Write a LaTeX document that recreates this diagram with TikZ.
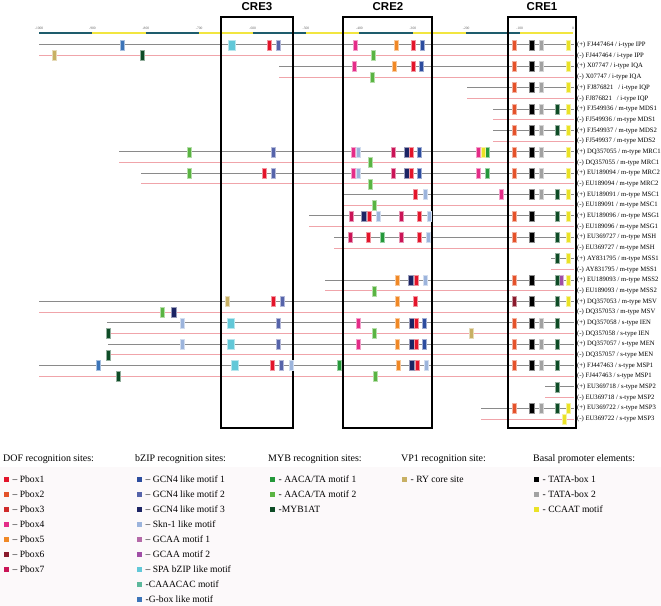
\documentclass[tikz,border=0pt]{standalone}
\usepackage{fontspec}
\setmainfont{Liberation Serif}
\newfontfamily\crefont{Liberation Sans}
\usetikzlibrary{positioning}

\definecolor{axisteal}{HTML}{1E5C6C}
\definecolor{axisyellow}{HTML}{F2E640}
\definecolor{plusgray}{HTML}{8A8A8A}
\definecolor{minuspink}{HTML}{F0A4AA}
\definecolor{legendbg}{HTML}{FCF9FA}
\definecolor{pboxone}{HTML}{E3142A}
\definecolor{pboxtwo}{HTML}{E4522A}
\definecolor{pboxthree}{HTML}{D02A2A}
\definecolor{pboxfour}{HTML}{E42C88}
\definecolor{pboxfive}{HTML}{F08826}
\definecolor{pboxsix}{HTML}{8A1A2C}
\definecolor{pboxseven}{HTML}{CA1456}
\definecolor{gcnone}{HTML}{2C4C9E}
\definecolor{gcntwo}{HTML}{5664AA}
\definecolor{gcnthree}{HTML}{1C2464}
\definecolor{sknone}{HTML}{9CB4DC}
\definecolor{gcaaone}{HTML}{B46AA8}
\definecolor{gcaatwo}{HTML}{A04EA6}
\definecolor{spabzip}{HTML}{62C8D8}
\definecolor{caaacac}{HTML}{5CB89C}
\definecolor{gboxlike}{HTML}{3C74B8}
\definecolor{aacaone}{HTML}{24983A}
\definecolor{aacatwo}{HTML}{5AB442}
\definecolor{mybat}{HTML}{0E4C26}
\definecolor{rycore}{HTML}{C8B064}
\definecolor{tataone}{HTML}{000000}
\definecolor{tatatwo}{HTML}{A2A2A2}
\definecolor{ccaatbox}{HTML}{EAE226}

\begin{document}
\begin{tikzpicture}[
    x=1bp, y=-1bp,
    declare function={rowy(\n)=45+(\n-1)*10.686;},
    axisbar/.style={line width=2.2bp},
    plusline/.style={draw=plusgray, line width=1bp},
    minusline/.style={draw=minuspink, line width=1bp},
    crebox/.style={draw=black, line width=1.2bp},
    crelabel/.style={font=\crefont\bfseries\fontsize{11.5}{12}\selectfont, inner sep=0pt},
    ticklabel/.style={font=\fontsize{3.6}{4}\selectfont, text=black!60, inner sep=0pt},
    rowlabel/.style={font=\fontsize{6.7}{7}\selectfont, anchor=west, inner sep=0pt},
    legtext/.style={font=\fontsize{9.6}{10}\selectfont, anchor=base west, inner sep=0pt},
    leghead/.style={font=\fontsize{10}{11}\selectfont, anchor=base west, inner sep=0pt},
    pics/site/.style 2 args={code={\path[fill=#1, draw=#1!45, line width=0.5bp] ({-#2/2},-5) rectangle ({#2/2},5);}}
]
\useasboundingbox (0,0) rectangle (661,606);

% legend background
\fill[legendbg] (0,467) rectangle (661,606);

% position axis
\draw[axisbar, axisyellow] (39,33) -- (573,33);
\foreach \k in {0,2,4,6,8}
  \draw[axisbar, axisteal] ({39+\k*53.4},33) -- ++(53.4,0);
\foreach \t [count=\k from 0] in {-1000,-900,...,0}
  \node[ticklabel] (tick\k) at ({39+\k*53.4},28) {\t};

% promoter rows
\foreach \rw/\st/\txt in {
    1/39/{(+) FJ447464 / i-type IPP}, 2/39/{(-) FJ447464 / i-type IPP},
    3/279/{(+) X07747 / i-type IQA}, 4/279/{(-) X07747 / i-type IQA},
    5/467/{(+) FJ876821\ \ \ / i-type IQP}, 6/467/{(-) FJ876821\ \ \ / i-type IQP},
    7/493/{(+) FJ549936 / m-type MDS1}, 8/493/{(-) FJ549936 / m-type MDS1},
    9/493/{(+) FJ549937 / m-type MDS2}, 10/493/{(-) FJ549937 / m-type MDS2},
    11/119/{(+) DQ357055\ / m-type MRC1}, 12/119/{(-) DQ357055 / m-type MRC1},
    13/141/{(+) EU189094 / m-type MRC2}, 14/141/{(-) EU189094 / m-type MRC2},
    15/343/{(+) EU189091 / m-type MSC1}, 16/343/{(-) EU189091 / m-type MSC1},
    17/309/{(+) EU189096 / m-type MSG1}, 18/309/{(-) EU189096 / m-type MSG1},
    19/334/{(+) EU369727 / m-type MSH}, 20/334/{(-) EU369727 / m-type MSH},
    21/551/{(+) AY831795 / m-type MSS1}, 22/551/{(-) AY831795 / m-type MSS1},
    23/325/{(+) EU189093 / m-type MSS2}, 24/325/{(-) EU189093 / m-type MSS2},
    25/39/{(+) DQ357053 / m-type MSV}, 26/39/{(-) DQ357053 / m-type MSV},
    27/107/{(+) DQ357058 / s-type IEN}, 28/107/{(-) DQ357058 / s-type IEN},
    29/108/{(+) DQ357057 / s-type MEN}, 30/108/{(-) DQ357057 / s-type MEN},
    31/39/{(+) FJ447463 / s-type MSP1}, 32/39/{(-) FJ447463 / s-type MSP1},
    33/545/{(+) EU369718 / s-type MSP2}, 34/545/{(-) EU369718 / s-type MSP2},
    35/481/{(+) EU369722 / s-type MSP3}, 36/481/{(-) EU369722 / s-type MSP3}} {
  \ifodd\rw \def\strand{plusline}\else\def\strand{minusline}\fi
  \draw[\strand] (\st,{rowy(\rw)}) -- (574,{rowy(\rw)});
  \node[rowlabel] (seq\rw) at (577,{rowy(\rw)}) {\txt};
}

% CRE regions
\draw[crebox] (221,17) rectangle (293,428);
\draw[crebox] (343,17) rectangle (432,428);
\draw[crebox] (508,17) rectangle (576,428);
\node[crelabel] (cre3) at (257,7) {CRE3};
\node[crelabel] (cre2) at (388,7) {CRE2};
\node[crelabel] (cre1) at (542,7) {CRE1};

% bZIP sites
\foreach \rw/\xx in {1/422,3/421,11/419,13/419,27/424,29/424}
  \pic at (\xx,{rowy(\rw)}) {site={gcnone}{4.4}};
\foreach \rw/\xx in {1/278,11/273,13/273,25/282,27/278,29/278,31/281}
  \pic at (\xx,{rowy(\rw)}) {site={gcntwo}{4.4}};
\foreach \rw/\xx in {11/407,13/407,17/364,23/411,26/174,27/412,29/412,31/412}
  \pic at (\xx,{rowy(\rw)}) {site={gcnthree}{5}};
\foreach \rw/\xx in {11/358,13/358,15/425,17/378,17/429,19/428,23/425,27/182,29/182,31/291,31/426}
  \pic at (\xx,{rowy(\rw)}) {site={sknone}{4}};
\foreach \rw/\xx in {1/232,27/231,29/231,31/235}
  \pic at (\xx,{rowy(\rw)}) {site={spabzip}{6.6}};
\foreach \rw/\xx in {1/122,31/98}
  \pic at (\xx,{rowy(\rw)}) {site={gboxlike}{4.4}};
\pic at (561,{rowy(23)}) {site={gcaatwo}{4.8}};

% DOF sites
\foreach \rw/\xx in {1/269,1/413,3/413,11/411,13/264,13/411,15/415,17/369,17/419,19/368,19/419,23/416,25/273,25/415,27/416,29/416,31/272,31/417}
  \pic at (\xx,{rowy(\rw)}) {site={pboxone}{4.4}};
\foreach \rw in {1,3,5,7,9,11,13,17,19,23,27,29,31,35}
  \pic at (514,{rowy(\rw)}) {site={pboxtwo}{4.4}};
\pic at (514,{rowy(25)}) {site={pboxsix}{4.4}};
\foreach \rw/\xx in {1/355,3/354,11/353,13/353,11/478,13/478,15/501,27/358,29/358}
  \pic at (\xx,{rowy(\rw)}) {site={pboxfour}{4.4}};
\foreach \rw/\xx in {11/393,13/393,17/351,17/401,19/350,19/401}
  \pic at (\xx,{rowy(\rw)}) {site={pboxseven}{4.4}};
\foreach \rw/\xx in {1/396,3/394,23/397,25/397,27/397,29/397,31/398}
  \pic at (\xx,{rowy(\rw)}) {site={pboxfive}{4.4}};

% MYB and VP1 sites
\foreach \rw/\xx in {11/487,13/487,19/382,31/339}
  \pic at (\xx,{rowy(\rw)}) {site={aacaone}{4.4}};
\foreach \rw/\xx in {2/373,4/372,11/189,13/189,12/370,14/370,16/374,24/374,26/162,28/374,32/375}
  \pic at (\xx,{rowy(\rw)}) {site={aacatwo}{4.4}};
\foreach \rw/\xx in {2/142,28/108,30/108,32/118,7/557,9/557,15/557,17/557,19/557,21/557,23/557,25/557,27/557,29/557,31/557,33/557,35/557}
  \pic at (\xx,{rowy(\rw)}) {site={mybat}{4.4}};
\foreach \rw/\xx in {2/54,25/227,28/471}
  \pic at (\xx,{rowy(\rw)}) {site={rycore}{4.4}};

% basal elements
\foreach \rw in {1,3,5,7,9,11,13,15,17,19,23,25,27,29,31,35}
  \pic at (532,{rowy(\rw)}) {site={tataone}{5}};
\foreach \rw in {1,3,5,7,9,11,13,15,27,29,31,35}
  \pic at (541,{rowy(\rw)}) {site={tatatwo}{4.4}};
\foreach \rw/\xx in {1/568,3/568,5/568,7/568,9/568,11/568,13/568,15/568,17/568,19/568,21/568,23/568,25/568,35/568,11/483,36/564}
  \pic at (\xx,{rowy(\rw)}) {site={ccaatbox}{4.4}};

% legend
\node[leghead] (dofhead) at (3,461) {DOF recognition sites:};
\node[leghead] (bziphead) at (135,461) {bZIP recognition sites:};
\node[leghead] (mybhead) at (268,461) {MYB recognition sites:};
\node[leghead] (vphead) at (401,461) {VP1 recognition site:};
\node[leghead] (basalhead) at (533,461) {Basal promoter elements:};
\foreach \lx/\k/\c/\t in {
    4/1/pboxone/{\textendash\ Pbox1}, 4/2/pboxtwo/{\textendash\ Pbox2},
    4/3/pboxthree/{\textendash\ Pbox3}, 4/4/pboxfour/{\textendash\ Pbox4},
    4/5/pboxfive/{\textendash\ Pbox5}, 4/6/pboxsix/{\textendash\ Pbox6},
    4/7/pboxseven/{\textendash\ Pbox7},
    137/1/gcnone/{\textendash\ GCN4 like motif 1}, 137/2/gcntwo/{\textendash\ GCN4 like motif 2},
    137/3/gcnthree/{\textendash\ GCN4 like motif 3}, 137/4/sknone/{\textendash\ Skn-1 like motif},
    137/5/gcaaone/{\textendash\ GCAA motif 1}, 137/6/gcaatwo/{\textendash\ GCAA motif 2},
    137/7/spabzip/{\textendash\ SPA bZIP like motif}, 137/8/caaacac/{-CAAACAC motif},
    137/9/gboxlike/{-G-box like motif},
    270/1/aacaone/{- AACA/TA motif 1}, 270/2/aacatwo/{- AACA/TA motif 2},
    270/3/mybat/{-MYB1AT},
    402/1/rycore/{- RY core site},
    534/1/tataone/{- TATA-box 1}, 534/2/tatatwo/{- TATA-box 2},
    534/3/ccaatbox/{- CCAAT motif}} {
  \fill[\c] (\lx,{479+(\k-1)*15.05-2.5}) rectangle ++(5,5);
  \node[legtext] (leg\c) at (\lx+8.5,{479+(\k-1)*15.05+3.4}) {\t};
}
\end{tikzpicture}
\end{document}
